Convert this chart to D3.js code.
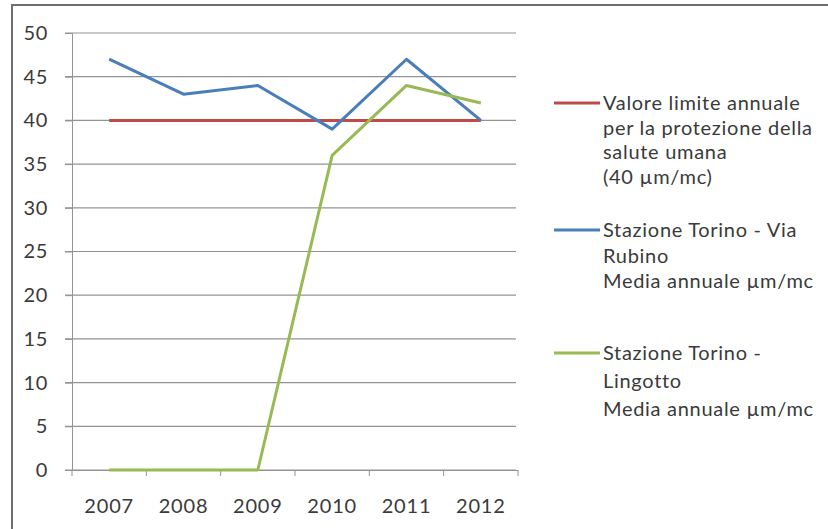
<!DOCTYPE html>
<html>
<head>
<meta charset="utf-8">
<script src="https://cdn.jsdelivr.net/npm/d3@7"></script>
<style>
body { margin:0; background:#fff; }
text { font-family: Lato, "Open Sans", sans-serif; fill:#3a3a3a; }
</style>
</head>
<body>
<svg id="chart" width="828" height="529"></svg>
<script>
// data
var years = ["2007","2008","2009","2010","2011","2012"]
var limite = [40,40,40,40,40,40]
var rubino = [47,43,44,39,47,40]
var lingotto = [0,0,0,36,44,42]
var yTicks = [0,5,10,15,20,25,30,35,40,45,50]

var series = [
  {name:["Valore limite annuale","per la protezione della","salute umana","(40 µm/mc)"], values:limite, color:"#be4b48", ly:103, lh:24.5},
  {name:["Stazione Torino - Via","Rubino","Media annuale µm/mc"], values:rubino, color:"#4a7ebb", ly:230, lh:25.5},
  {name:["Stazione Torino -","Lingotto","Media annuale µm/mc"], values:lingotto, color:"#98b954", ly:353, lh:28}
]

var svg = d3.select("#chart")

// outer frame
svg.append("path")
  .attr("d","M12,529 L12,5 L828,5")
  .attr("fill","none").attr("stroke","#6e6e6e").attr("stroke-width",2)

var x = d3.scaleBand().domain(years).range([72,518]).padding(0)
var y = d3.scaleLinear().domain([0,50]).range([470,33])

// gridlines
svg.append("g").selectAll("line").data(yTicks).enter().append("line")
  .attr("x1",65).attr("x2",516)
  .attr("y1",function(d){return y(d)}).attr("y2",function(d){return y(d)})
  .attr("stroke","#939393").attr("stroke-width",1.2)

// y axis
var yAxis = svg.append("g").attr("transform","translate(72,0)")
  .call(d3.axisLeft(y).tickValues(yTicks).tickSize(7).tickPadding(17))
yAxis.select(".domain").attr("stroke","#939393")
yAxis.selectAll(".tick line").attr("stroke","#939393")
yAxis.selectAll("text").style("font-size","20px").style("letter-spacing","0.6px").attr("fill","#3a3a3a")

// x axis, ticks on the category boundaries
var xAxis = svg.append("g").attr("transform","translate(0,470)")
  .call(d3.axisBottom(x).tickSize(0).tickPadding(29))
xAxis.select(".domain").attr("stroke","#939393")
xAxis.selectAll("text").style("font-size","20px").style("letter-spacing","0.8px").attr("fill","#3a3a3a")
var bounds = years.map(function(d){return x(d)}).concat([x.range()[1]])
xAxis.selectAll(".bnd").data(bounds).enter().append("line")
  .attr("x1",function(d){return d}).attr("x2",function(d){return d})
  .attr("y1",0).attr("y2",6).attr("stroke","#939393")

var line = d3.line()
  .x(function(d,i){return x(years[i]) + x.bandwidth()/2})
  .y(function(d){return y(d)})

series.forEach(function(s){
  svg.append("path").datum(s.values)
    .attr("d",line)
    .attr("fill","none")
    .attr("stroke",s.color)
    .attr("stroke-width",3)
    .attr("stroke-linejoin","round")

  // legend
  svg.append("line")
    .attr("x1",554).attr("x2",600)
    .attr("y1",s.ly).attr("y2",s.ly)
    .attr("stroke",s.color).attr("stroke-width",3)
  var t = svg.append("text").attr("x",603).attr("y",s.ly+7)
    .style("font-size","20px").style("letter-spacing","0.7px")
  s.name.forEach(function(n,i){
    t.append("tspan").attr("x",603).attr("dy",i==0?0:s.lh).text(n)
  })
})
</script>
</body>
</html>
